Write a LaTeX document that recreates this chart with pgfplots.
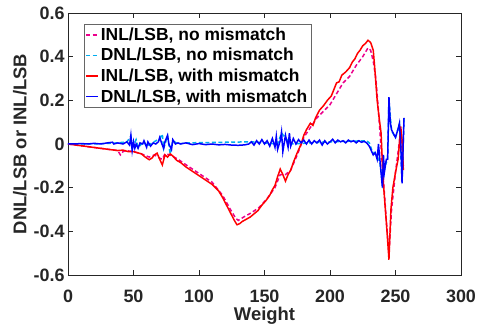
\documentclass[border=0pt]{standalone}
\usepackage{fontspec}
\setmainfont{Liberation Sans}
\usepackage{pgfplots}
\pgfplotsset{compat=1.18}
\definecolor{txt}{RGB}{38,38,38}
\begin{document}
\begin{tikzpicture}
\begin{axis}[
  scale only axis, width=393bp, height=262bp,
  xmin=0, xmax=300, ymin=-0.6, ymax=0.6,
  xtick={0,50,...,300}, ytick={-0.6,-0.4,...,0.6},
  tick align=inside, major tick length=5bp,
  axis line style={line width=0.8pt, black!85},
  tick style={line width=0.8pt, black!85},
  /pgf/number format/assume math mode=true,
  /pgf/number format/.cd, fixed, precision=1, /pgfplots/.cd,
  ticklabel style={font=\fontsize{18}{21}\selectfont\bfseries, text=txt},
  xticklabel style={yshift=-11bp},
  xlabel={Weight}, ylabel={DNL/LSB or INL/LSB},
  label style={font=\fontsize{18.5}{21}\selectfont\bfseries, text=txt},
  xlabel style={yshift=2bp},
  legend style={at={(rel axis cs:0.04,0.958)}, anchor=north west,
    font=\fontsize{17.5}{22}\selectfont\bfseries, draw=black!60,
    row sep=2.5pt, inner sep=1.5pt},
  legend cell align=left,
  legend image code/.code={\draw[#1,line width=1.6pt] (0cm,0cm) -- (0.42cm,0cm);},
  every axis plot/.append style={line width=1.5pt},
]
\addplot[draw=magenta, dash pattern=on 4pt off 2.5pt] coordinates {
(0,0) (20,-0.016) (38,-0.03) (40,-0.05) (42,-0.035) (44,-0.03) (50,-0.035) (56,-0.045) (62,-0.06) (66,-0.05) (70,-0.065) (72,-0.07) (74,-0.045) (78,-0.05) (84,-0.07) (90,-0.095) (100,-0.135) (110,-0.175) (118,-0.235) (124,-0.3) (128,-0.34) (130,-0.35) (134,-0.335) (140,-0.315) (146,-0.29) (152,-0.25) (158,-0.2) (162,-0.14) (166,-0.14) (170,-0.12) (175,-0.05) (180,0.03) (185,0.075) (190,0.12) (195,0.15) (200,0.18) (205,0.23) (210,0.28) (215,0.31) (220,0.36) (225,0.4) (229,0.44) (231,0.43) (233,0.38) (235,0.3) (237,0.15) (240,-0.1) (243,-0.35) (245,-0.5) (247,-0.3) (250,-0.13) (254,0.06) (256,-0.1)
};
\addlegendentry{INL/LSB, no mismatch}
\addplot[draw=cyan, dash pattern=on 4pt off 2.5pt] coordinates {
(0,0) (20,0) (38,0.005) (45,0.01) (48,0.035) (49,-0.02) (52,0.02) (53.5,-0.015) (58,0.01) (60,-0.01) (70,0.025) (72,0.045) (73,-0.02) (76,0.035) (78,-0.045) (79,-0.02) (80,0.015) (84,0.0) (90,0.005) (140,0.01) (160,0.0) (163,0.05) (170,0.0) (200,0.01) (228,0.015) (230,0.005) (232,-0.03) (234,-0.04) (236,-0.06) (238,-0.08) (240,-0.18) (242,-0.1) (244,-0.07) (245,0.2) (247,0.06) (250,0.03) (253,0.09) (255,-0.17) (256.5,0.12)
};
\addlegendentry{DNL/LSB, no mismatch}
\addplot[draw=red, solid] coordinates {
(0,0) (10,-0.008) (20,-0.016) (30,-0.024) (38,-0.03) (42,-0.028) (46,-0.035) (50,-0.035) (53,-0.04) (56,-0.045) (59,-0.06) (62,-0.072) (64,-0.065) (66,-0.05) (68,-0.042) (70,-0.07) (72,-0.096) (74,-0.05) (76,-0.06) (78,-0.045) (80,-0.055) (83,-0.075) (86,-0.085) (90,-0.105) (95,-0.125) (100,-0.145) (105,-0.165) (110,-0.185) (115,-0.215) (118,-0.245) (121,-0.28) (124,-0.315) (127,-0.35) (129,-0.37) (131,-0.365) (133,-0.355) (136,-0.345) (139,-0.335) (142,-0.32) (145,-0.305) (148,-0.28) (151,-0.26) (154,-0.235) (156,-0.21) (158,-0.19) (160,-0.15) (162,-0.115) (164,-0.14) (166,-0.17) (168,-0.14) (170,-0.12) (172,-0.085) (175,-0.04) (178,0.0) (180,0.04) (182,0.065) (185,0.095) (187,0.085) (189,0.12) (192,0.155) (195,0.175) (198,0.2) (201,0.22) (203,0.25) (205,0.28) (207,0.285) (209,0.315) (212,0.33) (215,0.35) (217,0.375) (219,0.39) (221,0.415) (223,0.43) (225,0.45) (227,0.46) (229,0.475) (231,0.465) (233,0.43) (234,0.36) (236,0.2) (237.5,0.12) (239,0.05) (240.5,-0.16) (242,-0.28) (243.5,-0.4) (245,-0.53) (246.5,-0.3) (248,-0.2) (250,-0.13) (252,-0.07) (254,0.08) (255,0.02) (256,-0.12)
};
\addlegendentry{INL/LSB, with mismatch}
\addplot[draw=blue, solid] coordinates {
(0,0) (5,0) (10,0.002) (15,0) (20,0.003) (25,0) (30,0.005) (34,0.008) (35,0) (38,0.005) (42,0.0) (45,0.01) (47,-0.005) (48,0.04) (49,-0.03) (50,0.01) (51,-0.02) (52,0.0) (53.5,-0.02) (55,0.005) (57,0.0) (58,0.015) (60,-0.015) (61,0.01) (63,-0.01) (65,0.005) (67,0.0) (69,0.01) (70,0.03) (72,-0.005) (73,-0.02) (74,0.01) (76,0.04) (77,0.0) (79,-0.025) (80,0.02) (82,0.0) (84,0.005) (86,0.0) (88,0.003) (90,0.005) (95,-0.003) (100,0.002) (105,-0.003) (110,0.0) (115,-0.004) (120,-0.002) (125,-0.005) (130,-0.006) (135,-0.004) (138,0.0) (140,0.01) (142,-0.005) (144,0.015) (146,0.0) (148,0.02) (150,0.0) (152,0.015) (154,-0.01) (156,0.025) (158,-0.015) (159,0.035) (160,-0.025) (162,0.015) (163,0.055) (164,-0.035) (166,0.04) (168,-0.015) (169,0.05) (170,-0.01) (172,0.025) (174,0.0) (176,0.02) (178,0.005) (180,0.018) (182,0.0) (184,0.018) (186,0.0) (188,0.015) (190,0.005) (192,0.018) (194,-0.005) (196,0.015) (198,0.0) (200,0.01) (202,0.022) (204,0.005) (206,0.018) (208,0.01) (210,0.015) (212,0.005) (214,0.018) (216,0.01) (218,0.015) (220,0.005) (222,0.015) (224,0.008) (226,0.012) (228,0.005) (230,-0.01) (231.5,-0.03) (233,-0.05) (234.5,-0.04) (236,-0.07) (237,0.0) (238.5,-0.1) (240,-0.2) (240.8,-0.05) (241.5,-0.13) (243,-0.07) (244,-0.07) (245,0.215) (246,0.1) (247,0.065) (249,0.04) (250,0.03) (252,0.07) (253,0.095) (254,0.0) (255,-0.18) (256.5,0.12)
};
\addlegendentry{DNL/LSB, with mismatch}
\end{axis}
\pgfresetboundingbox
\path ([xshift=-68bp,yshift=-54bp]current axis.south west) rectangle ([xshift=16bp,yshift=13bp]current axis.north east);
\end{tikzpicture}
\end{document}
